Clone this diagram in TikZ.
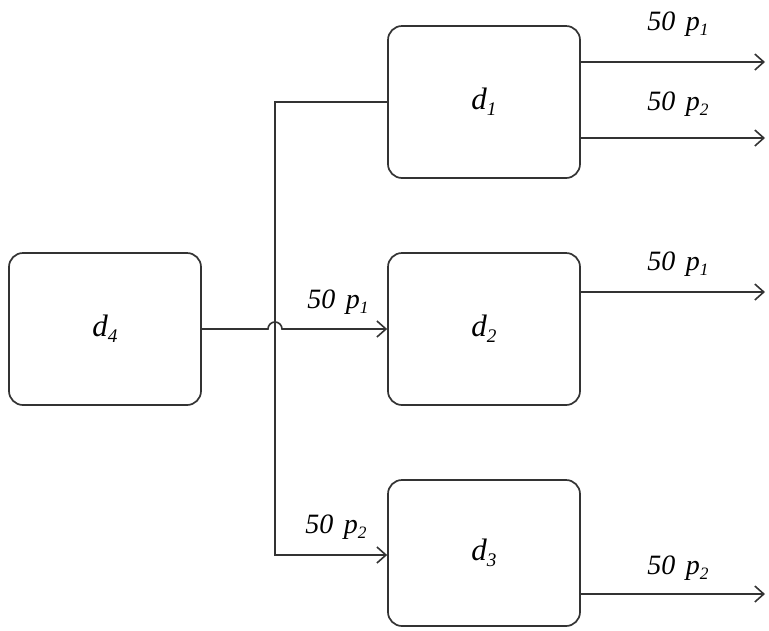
\documentclass[tikz,border=0pt]{standalone}
\usepackage{fontspec}
\setmainfont{Liberation Serif}
\usetikzlibrary{arrows.meta}
\newcommand{\lsub}[1]{\raisebox{-0.2em}{\fontsize{0.62em}{1em}\selectfont #1}}
\newcommand{\lbl}[1]{50\hspace{0.38em}p\lsub{#1}}
\begin{document}
\begin{tikzpicture}[x=1pt,y=-1pt,
  box/.style={draw=black!80, line width=1.7pt, rounded corners=14pt, minimum width=192pt, minimum height=152pt, inner sep=0pt, font=\fontsize{31}{35}\selectfont\itshape},
  conn/.style={draw=black!80, line width=1.6pt},
  arr/.style={conn, -{Straight Barb[length=9pt,width=16pt,line width=1.6pt]}},
  lab/.style={font=\fontsize{28}{32}\selectfont\itshape, inner sep=0pt}]
\useasboundingbox (0,0) rectangle (769,630);
\node[box] (d4) at (105,329) {d\lsub{4}};
\node[box] (d1) at (484,102) {d\lsub{1}};
\node[box] (d2) at (484,329) {d\lsub{2}};
\node[box, minimum height=146pt] (d3) at (484,553) {d\lsub{3}};
\coordinate (bot) at (275,555);
\coordinate (hopL) at (268,329);
\coordinate (o1) at (765,62);
\coordinate (o2) at (765,138);
\coordinate (o3) at (765,292);
\coordinate (o4) at (765,594);
\draw[arr] (d1.west) -| (bot) -- (bot -| d3.west);
\draw[arr] (d4.east) -- (hopL) arc[start angle=180,end angle=0,radius=7pt] -- (d2.west);
\draw[arr] (o1 -| d1.east) -- (o1);
\draw[arr] (o2 -| d1.east) -- (o2);
\draw[arr] (o3 -| d2.east) -- (o3);
\draw[arr] (o4 -| d3.east) -- (o4);
\node[lab] (l1) at (678,24) {\lbl{1}};
\node[lab] (l2) at (678,104) {\lbl{2}};
\node[lab] (l3) at (678,264) {\lbl{1}};
\node[lab] (l4) at (678,568) {\lbl{2}};
\node[lab] (l5) at (338,302) {\lbl{1}};
\node[lab] (l6) at (336,527) {\lbl{2}};
\end{tikzpicture}
\end{document}
